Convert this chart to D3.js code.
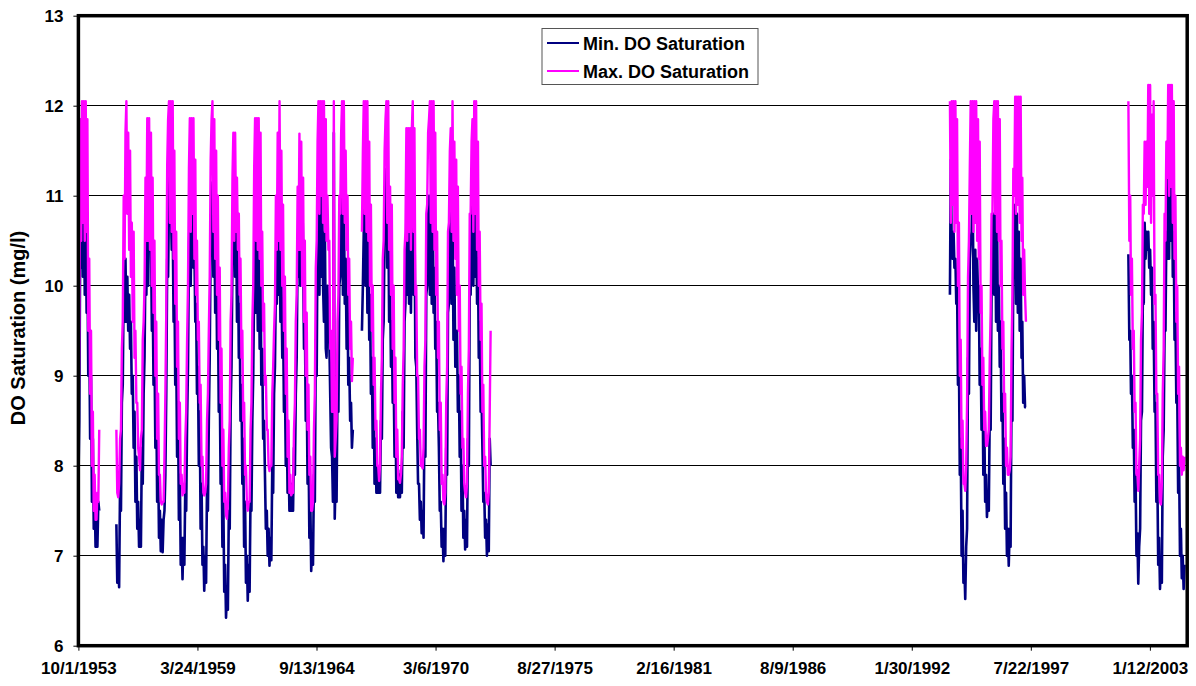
<!DOCTYPE html>
<html><head><meta charset="utf-8">
<script src="https://cdn.jsdelivr.net/npm/d3@7"></script>
<style>
html,body{margin:0;padding:0;background:#fff;}
svg{display:block;}
text{font-family:"Liberation Sans",Arial,Helvetica,sans-serif;font-weight:bold;fill:#000;}
</style></head>
<body>
<svg id="chart" width="1196" height="686"></svg>
<script>
// ---------------- DATA ----------------
// Semi-monthly readings (1st and 16th of each month); null = no record.
const seriesNames = ["Min. DO Saturation", "Max. DO Saturation"];
const xTickLabels = ["10/1/1953","3/24/1959","9/13/1964","3/6/1970","8/27/1975","2/16/1981","8/9/1986","1/30/1992","7/22/1997","1/12/2003"];
const yTicks = [6,7,8,9,10,11,12,13];
const periodStarts = ["10/1/1953","11/1/1993","1/16/2002"];
const N = null;

// Period 1: 10/1/1953 - 9/16/1972
const maxDO1 = [
// WY1954
8.2,9.4,11.85,10.5,12.05,10.7,12.05,10.5,12.05,10.6,11.85,9.5,10.3,8.8,9.5,8.0,8.6,7.5,7.9,7.4,7.4,7.7,7.6,8.4,
// WY1955
N,N,N,N,N,N,N,N,N,N,N,N,N,N,N,N,N,N,8.4,7.7,7.65,7.8,8.3,8.4,
// WY1956
9.3,9.6,11.0,10.3,11.7,12.05,10.8,11.7,10.4,11.5,10.1,10.7,9.6,10.6,9.2,9.5,8.7,8.7,8.2,8.1,7.95,8.3,8.4,9.4,
// WY1957
9.6,10.0,11.2,10.5,11.86,10.5,11.86,10.4,11.7,10.0,11.2,9.7,10.5,9.0,9.6,8.3,8.8,7.9,7.9,7.6,7.57,7.6,7.6,8.1,
// WY1958
8.8,9.7,11.35,11.85,12.05,10.7,12.05,10.6,12.05,10.3,11.5,9.8,10.6,9.1,9.6,8.3,8.7,7.8,7.9,7.67,7.8,7.7,8.3,8.6,
// WY1959
9.4,10.0,11.3,11.86,10.6,11.86,10.8,11.86,10.3,11.4,9.9,10.5,9.4,9.6,8.7,8.9,8.0,8.1,7.7,7.67,7.7,7.8,8.5,8.8,
// WY1960
9.5,10.1,11.4,11.85,12.05,10.6,11.85,10.3,11.5,9.9,11.0,9.4,10.2,8.7,9.3,8.0,8.4,7.6,7.7,7.45,7.41,7.6,8.2,8.5,
// WY1961
9.6,9.9,11.2,11.7,10.5,11.7,10.6,11.2,10.4,10.8,9.9,10.3,9.2,9.5,8.5,8.7,7.9,8.0,7.6,7.5,7.6,7.6,8.4,8.7,
// WY1962
9.6,10.0,11.3,11.86,10.5,11.86,10.4,11.86,10.3,11.7,10.0,10.6,9.5,9.8,8.9,9.0,8.4,8.4,8.0,7.94,8.0,8.0,8.8,9.1,
// WY1963
9.5,9.8,11.0,10.4,11.7,10.5,12.05,10.4,11.5,10.0,10.9,9.5,10.1,8.8,9.3,8.1,8.5,7.7,7.9,7.67,7.7,7.7,8.4,8.7,
// WY1964
9.6,9.9,11.1,10.4,11.69,10.4,11.6,10.0,11.2,9.6,10.5,9.0,9.7,8.4,8.9,7.9,8.1,7.5,7.5,7.6,8.4,8.8,10.2,10.5,
// WY1965
11.6,12.05,10.8,12.05,11.0,12.05,10.7,12.05,10.6,11.85,10.5,11.0,10.4,10.5,9.3,9.5,8.6,8.6,12.05,8.1,8.3,8.5,9.6,9.9,
// WY1966
11.0,10.8,11.7,12.05,10.8,12.05,10.7,11.5,10.4,11.0,9.9,10.3,9.3,9.6,8.94,9.2,N,N,N,N,N,N,N,N,
// WY1967
N,10.6,11.5,12.05,10.8,12.05,10.6,12.05,10.5,11.6,10.0,10.9,9.5,10.0,8.9,9.2,8.4,8.5,8.0,8.0,7.83,8.0,8.8,9.2,
// WY1968
10.3,10.5,11.5,11.85,12.05,10.7,12.05,10.4,11.1,9.9,10.9,9.3,10.0,8.7,9.2,8.1,8.4,7.85,7.85,7.81,7.9,8.1,8.9,9.3,
// WY1969
10.4,10.6,11.75,10.5,11.75,10.6,11.75,10.4,11.75,12.05,10.6,11.75,9.9,10.0,9.0,9.0,8.3,8.4,8.0,8.0,7.97,8.2,9.1,9.4,
// WY1970
10.8,10.9,11.7,11.85,12.05,10.7,12.05,10.6,12.05,10.4,11.7,9.9,10.6,9.2,9.6,8.4,8.7,7.8,7.9,7.6,7.57,7.7,8.7,9.1,
// WY1971
10.6,10.7,11.5,11.75,10.6,12.05,10.5,11.6,10.3,11.4,9.9,11.1,9.5,10.0,8.8,9.1,8.2,8.3,7.8,7.7,7.65,7.8,8.8,9.3,
// WY1972
10.8,10.8,11.6,11.85,10.6,12.05,10.8,12.05,10.4,11.6,10.0,10.6,9.4,9.8,8.6,8.9,8.0,8.1,7.7,7.6,7.57,7.7,8.6,9.5
];
const minDO1 = [
// WY1954
7.8,8.5,10.6,10.2,11.15,10.1,11.1,9.9,10.9,9.7,10.3,9.0,9.5,8.3,9.0,7.6,8.3,7.3,7.7,7.1,7.4,7.1,7.6,7.5,
// WY1955
N,N,N,N,N,N,N,N,N,N,N,N,N,N,N,N,N,N,7.35,6.7,6.95,6.65,7.8,7.5,
// WY1956
8.7,8.9,10.0,9.6,10.3,9.6,10.1,9.5,9.9,9.3,9.6,8.8,9.0,8.2,8.6,7.6,8.1,7.3,7.6,7.1,7.4,7.1,8.2,7.8,
// WY1957
8.8,9.2,10.3,9.9,10.9,10.0,11.0,11.33,10.6,9.5,10.0,8.9,9.3,8.2,8.8,7.6,8.1,7.2,7.5,7.05,7.4,7.04,7.4,7.5,
// WY1958
7.9,8.8,10.3,10.1,11.0,11.33,10.9,10.4,10.7,9.6,10.1,8.9,9.3,8.1,8.7,7.4,7.9,6.9,7.2,6.74,7.2,6.9,7.8,7.5,
// WY1959
8.5,9.1,10.4,10.9,10.0,11.1,11.7,10.2,10.4,9.6,9.8,8.8,9.1,8.0,8.6,7.3,7.8,6.9,7.1,6.61,7.0,6.7,7.8,7.5,
// WY1960
8.5,9.2,10.5,10.9,11.15,10.1,10.9,9.7,10.5,9.3,9.9,8.6,9.0,7.8,8.4,7.1,7.6,6.6,6.9,6.31,6.6,6.4,7.5,7.3,
// WY1961
8.6,9.1,10.3,10.8,11.15,10.1,10.9,9.6,10.4,9.2,9.8,8.5,8.9,7.8,8.3,7.1,7.6,6.7,7.0,6.5,6.9,6.6,7.7,7.5,
// WY1962
8.5,9.0,10.1,10.7,9.7,10.6,9.5,10.5,9.3,10.2,8.9,9.3,8.3,8.5,7.9,7.3,7.5,7.0,7.3,6.89,7.2,6.95,8.0,7.7,
// WY1963
8.8,9.1,10.1,9.8,10.83,9.9,10.8,9.6,10.2,9.2,9.7,8.6,9.0,8.0,8.6,7.7,8.1,7.5,7.8,7.5,7.8,7.5,8.2,7.9,
// WY1964
8.8,9.2,10.4,10.1,10.9,10.0,11.0,11.17,10.4,9.3,9.7,8.5,8.9,7.8,8.3,7.2,7.6,6.83,7.1,6.9,7.9,7.6,9.4,9.0,
// WY1965
10.7,11.0,9.9,11.1,10.1,11.15,10.0,9.6,10.6,9.3,9.2,10.0,9.5,9.4,8.8,8.2,8.1,7.6,11.7,7.41,7.9,7.6,8.9,8.6,
// WY1966
10.0,10.1,10.9,11.0,9.9,11.0,9.8,10.3,9.3,9.9,8.9,9.2,8.5,8.7,8.2,8.4,N,N,N,N,N,N,N,N,
// WY1967
N,9.5,10.0,10.6,11.1,10.0,10.9,9.7,10.5,9.4,9.9,8.8,9.2,8.2,8.9,7.8,8.3,7.7,8.0,7.7,7.95,7.7,8.5,8.3,
// WY1968
9.4,9.6,10.6,11.0,11.3,10.2,11.0,9.6,10.0,9.1,9.6,8.7,9.0,8.1,8.7,7.7,8.1,7.65,7.9,7.65,7.95,7.7,8.6,8.2,
// WY1969
9.6,9.8,10.8,9.9,10.9,9.8,10.8,9.7,10.9,11.4,9.9,10.9,9.2,9.1,8.4,7.8,7.8,7.4,7.6,7.25,7.5,7.2,8.5,8.1,
// WY1970
9.9,10.0,10.8,11.0,9.9,10.9,9.8,11.0,9.7,10.2,9.3,9.6,8.6,8.7,8.2,7.5,7.6,7.1,7.3,6.94,7.3,7.0,8.2,7.9,
// WY1971
9.7,9.8,10.6,10.9,9.8,10.8,9.4,10.2,9.1,9.1,9.5,8.6,9.0,8.1,8.6,7.5,8.0,7.2,7.5,7.07,7.4,7.1,8.3,8.0,
// WY1972
9.9,9.9,10.8,11.0,10.0,11.3,10.1,11.0,9.8,10.3,9.2,9.6,8.6,8.8,8.2,7.6,7.7,7.2,7.4,7.0,7.35,7.05,8.3,8.0
];

// Period 2: 11/1/1993 - 5/1/1997
const maxDO2 = [
12.05,10.7,12.05,10.9,12.05,10.6,12.05,10.7,11.85,10.0,10.7,9.0,9.4,8.2,8.5,7.8,7.8,7.72,8.0,8.7,10.1,10.5,
11.3,12.05,10.8,12.05,10.6,12.05,10.7,12.05,10.5,11.85,10.3,11.6,9.7,10.0,8.9,9.2,8.4,8.6,8.22,8.22,8.3,8.4,9.2,9.7,
10.8,10.8,11.85,12.05,10.8,12.05,10.6,12.05,10.5,11.85,10.0,10.5,9.3,9.6,8.6,8.8,8.0,8.2,7.9,7.9,7.95,8.1,9.3,9.9,
11.3,11.0,12.1,10.8,12.1,10.9,12.1,10.7,12.1,10.5,11.2,9.9,10.4,9.9,9.6
];
const minDO2 = [
9.9,11.4,10.4,10.3,10.6,10.2,10.3,9.8,10.0,8.9,9.2,7.9,8.3,7.0,7.5,6.7,6.9,6.52,7.1,7.3,9.2,8.8,
10.3,10.5,10.6,11.24,10.0,9.6,10.4,9.5,10.3,9.9,10.0,8.9,9.3,8.4,9.1,7.9,8.5,7.6,7.9,7.43,7.7,7.5,8.6,8.4,
9.9,10.0,10.8,9.9,10.8,9.6,10.8,9.5,10.0,9.1,9.6,8.5,8.8,7.8,8.3,7.3,7.7,7.0,7.3,6.89,7.3,7.1,8.8,8.5,
10.3,10.2,10.9,9.8,10.8,9.7,10.6,9.5,10.3,9.2,9.6,8.7,9.0,8.65,8.65
];

// Period 3: 1/16/2002 - 8/16/2004
const maxDO3 = [
12.05,10.5,11.0,9.9,10.3,9.3,9.5,8.6,8.7,7.9,7.95,7.72,8.0,8.3,9.4,9.7,10.9,
10.8,11.6,10.9,11.6,11.1,12.23,10.8,12.23,10.7,11.9,11.0,12.05,9.8,9.9,8.8,8.8,7.9,7.9,7.6,7.57,7.8,8.8,9.3,10.8,
10.5,11.6,11.2,12.23,11.0,12.23,11.1,12.23,10.7,12.05,10.3,11.0,9.6,10.0,8.8,9.1,8.0,8.2,7.9,8.1,7.95,8.1
];
const minDO3 = [
10.35,9.4,9.5,8.8,9.0,8.2,8.4,7.6,7.9,7.0,7.25,6.69,7.1,7.3,8.5,8.6,9.9,
9.8,10.7,10.3,10.6,10.4,10.6,10.2,10.4,9.9,10.2,9.3,9.6,8.6,8.7,7.6,8.0,6.9,7.2,6.63,6.9,6.7,8.1,8.4,9.5,
9.5,10.6,10.3,11.4,10.3,11.87,10.5,11.5,10.1,10.6,9.4,9.7,8.7,8.8,7.7,8.1,7.0,7.3,6.75,7.0,6.63,6.9
];

// ---------------- CHART ----------------
const parse = d3.timeParse("%m/%d/%Y");
function halfMonth(start, k) {
  const h = (start.getDate() >= 16 ? 1 : 0) + k;
  return new Date(start.getFullYear(), start.getMonth() + Math.floor(h / 2), (h % 2) ? 16 : 1);
}
function build(startStr, vals) {
  const s = parse(startStr);
  return vals.map((v, k) => ({ date: halfMonth(s, k), v: v }));
}
const minSeries = [build(periodStarts[0], minDO1), build(periodStarts[1], minDO2), build(periodStarts[2], minDO3)];
const maxSeries = [build(periodStarts[0], maxDO1), build(periodStarts[1], maxDO2), build(periodStarts[2], maxDO3)];

const L = 78.4, R = 1187.2, T = 15.7, B = 645.7;
const x = d3.scaleTime().domain([parse("10/1/1953"), parse("9/30/2004")]).range([L, R]);
const y = d3.scaleLinear().domain([6, 13]).range([B, T]);

const svg = d3.select("#chart");

// gridlines
svg.append("g").selectAll("line").data(yTicks.filter(t => t > 6 && t < 13)).join("line")
  .attr("x1", L).attr("x2", R).attr("y1", d => y(d)).attr("y2", d => y(d))
  .attr("stroke", "#000").attr("stroke-width", 1).attr("shape-rendering", "crispEdges");

const line = d3.line().defined(d => d.v !== null).x(d => x(d.date)).y(d => y(d.v));
const colors = ["#000080", "#FF00FF"];
const widths = [2.6, 2.4];

[minSeries, maxSeries].forEach((grp, gi) => {
  svg.append("g").selectAll("path").data(grp).join("path")
    .attr("d", line).attr("fill", "none").attr("stroke", colors[gi])
    .attr("stroke-width", widths[gi]).attr("stroke-linejoin", "round");
});

// axes
const xAxis = d3.axisBottom(x).tickValues(xTickLabels.map(parse))
  .tickFormat((d, i) => xTickLabels[i]).tickSize(5).tickPadding(11);
const gx = svg.append("g").attr("transform", `translate(0,${B})`).call(xAxis);
gx.select(".domain").remove();
gx.selectAll("text").style("font-size", "17px").style("font-weight", "bold")
  .attr("font-family", '"Liberation Sans",Arial,sans-serif');
gx.selectAll("line").attr("stroke", "#000");

const yAxis = d3.axisLeft(y).tickValues(yTicks).tickFormat(d3.format("d")).tickSize(5).tickPadding(10);
const gy = svg.append("g").attr("transform", `translate(${L},0)`).call(yAxis);
gy.select(".domain").remove();
gy.selectAll("text").style("font-size", "17px").style("font-weight", "bold")
  .attr("font-family", '"Liberation Sans",Arial,sans-serif');
gy.selectAll("line").attr("stroke", "#000");

// plot border
svg.append("rect").attr("x", L).attr("y", T).attr("width", R - L).attr("height", B - T)
  .attr("fill", "none").attr("stroke", "#000").attr("stroke-width", 3.5);

// y title
svg.append("text").attr("transform", "translate(25,328) rotate(-90)")
  .attr("text-anchor", "middle").style("font-size", "20px").text("DO Saturation (mg/l)");

// legend
const lg = svg.append("g");
lg.append("rect").attr("x", 542).attr("y", 28.5).attr("width", 216).attr("height", 56)
  .attr("fill", "#fff").attr("stroke", "#555").attr("stroke-width", 1);
seriesNames.forEach((name, i) => {
  const yy = 43 + i * 28;
  lg.append("line").attr("x1", 547).attr("x2", 579).attr("y1", yy).attr("y2", yy)
    .attr("stroke", colors[i]).attr("stroke-width", 2);
  lg.append("text").attr("x", 583).attr("y", yy + 6.5).style("font-size", "18px").text(name);
});
</script>
</body></html>
